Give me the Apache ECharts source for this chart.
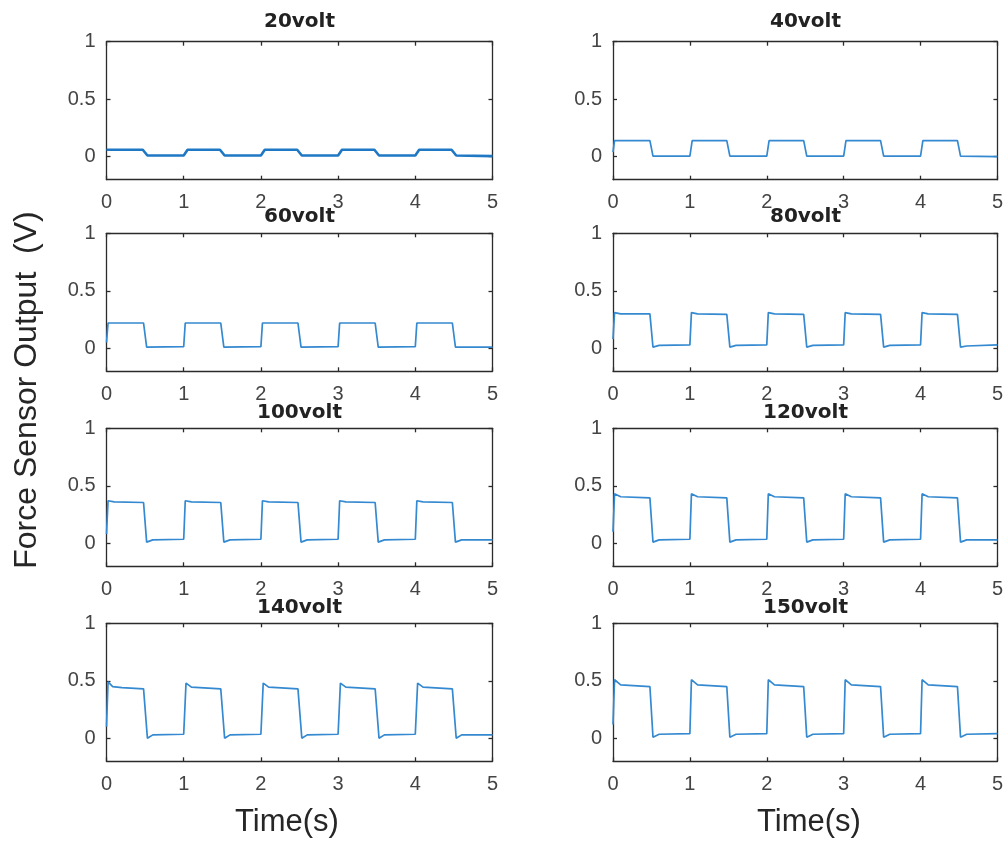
<!DOCTYPE html>
<html>
<head>
<meta charset="utf-8">
<script src="https://cdn.jsdelivr.net/npm/echarts@6/dist/echarts.min.js"></script>
<style>html,body{margin:0;padding:0;background:#fff}#c{width:1006px;height:842px}</style>
</head>
<body>
<div id="c"></div>
<script>
// ---- data ----
const titles = ['20volt','40volt','60volt','80volt','100volt','120volt','140volt','150volt'];
const timeTicks = [0,1,2,3,4,5];
const yTicks = [0,0.5,1];
const yLabel = 'Force Sensor Output  (V)';
const xLabel = 'Time(s)';

const v20 = [[0,0.06],[0.47,0.06],[0.53,0.01],[1.0,0.01],[1.05,0.06],[1.47,0.06],[1.53,0.01],[2.0,0.01],[2.05,0.06],[2.47,0.06],[2.53,0.01],[3.0,0.01],[3.05,0.06],[3.47,0.06],[3.53,0.01],[4.0,0.01],[4.05,0.06],[4.47,0.06],[4.53,0.01],[5.0,0.005]];
const v40 = [[0,0.04],[0.02,0.14],[0.48,0.14],[0.52,0.005],[1.0,0.005],[1.03,0.14],[1.48,0.14],[1.52,0.005],[2.0,0.005],[2.03,0.14],[2.48,0.14],[2.52,0.005],[3.0,0.005],[3.03,0.14],[3.48,0.14],[3.52,0.005],[4.0,0.005],[4.03,0.14],[4.48,0.14],[4.52,0.005],[5.0,0.0]];
const v60 = [[0,0.05],[0.02,0.22],[0.48,0.22],[0.52,0.01],[1.0,0.015],[1.02,0.22],[1.48,0.22],[1.52,0.01],[2.0,0.015],[2.02,0.22],[2.48,0.22],[2.52,0.01],[3.0,0.015],[3.02,0.22],[3.48,0.22],[3.52,0.01],[4.0,0.015],[4.02,0.22],[4.48,0.22],[4.52,0.01],[5.0,0.01]];
const v80 = [[0,0.08],[0.02,0.31],[0.1,0.30],[0.48,0.30],[0.52,0.01],[0.6,0.025],[1.0,0.03],[1.02,0.31],[1.1,0.30],[1.48,0.295],[1.52,0.01],[1.6,0.025],[2.0,0.03],[2.02,0.31],[2.1,0.30],[2.48,0.295],[2.52,0.01],[2.6,0.025],[3.0,0.03],[3.02,0.31],[3.1,0.30],[3.48,0.295],[3.52,0.01],[3.6,0.025],[4.0,0.03],[4.02,0.31],[4.1,0.30],[4.48,0.295],[4.52,0.01],[4.6,0.02],[5.0,0.03]];
const v100 = [[0,0.08],[0.02,0.37],[0.1,0.36],[0.48,0.355],[0.52,0.01],[0.6,0.03],[1.0,0.035],[1.02,0.37],[1.1,0.36],[1.48,0.355],[1.52,0.01],[1.6,0.03],[2.0,0.035],[2.02,0.37],[2.1,0.36],[2.48,0.355],[2.52,0.01],[2.6,0.03],[3.0,0.035],[3.02,0.37],[3.1,0.36],[3.48,0.355],[3.52,0.01],[3.6,0.03],[4.0,0.035],[4.02,0.37],[4.1,0.36],[4.48,0.355],[4.52,0.01],[4.6,0.03],[5.0,0.03]];
const v120 = [[0,0.1],[0.02,0.43],[0.1,0.405],[0.48,0.395],[0.52,0.01],[0.6,0.03],[1.0,0.035],[1.02,0.43],[1.1,0.405],[1.48,0.395],[1.52,0.01],[1.6,0.03],[2.0,0.035],[2.02,0.43],[2.1,0.405],[2.48,0.395],[2.52,0.01],[2.6,0.03],[3.0,0.035],[3.02,0.43],[3.1,0.405],[3.48,0.395],[3.52,0.01],[3.6,0.03],[4.0,0.035],[4.02,0.43],[4.1,0.405],[4.48,0.395],[4.52,0.01],[4.6,0.03],[5.0,0.03]];
const v140 = [[0,0.1],[0.02,0.49],[0.08,0.45],[0.2,0.44],[0.48,0.43],[0.53,0.0],[0.6,0.03],[1.0,0.035],[1.03,0.48],[1.1,0.445],[1.48,0.43],[1.53,0.0],[1.6,0.03],[2.0,0.035],[2.03,0.48],[2.1,0.445],[2.48,0.43],[2.53,0.0],[2.6,0.03],[3.0,0.035],[3.03,0.48],[3.1,0.445],[3.48,0.43],[3.53,0.0],[3.6,0.03],[4.0,0.035],[4.03,0.48],[4.1,0.445],[4.48,0.43],[4.53,0.0],[4.6,0.03],[5.0,0.03]];
const v150 = [[0,0.12],[0.02,0.51],[0.1,0.465],[0.48,0.45],[0.52,0.01],[0.6,0.035],[1.0,0.04],[1.02,0.51],[1.1,0.465],[1.48,0.45],[1.52,0.01],[1.6,0.035],[2.0,0.04],[2.02,0.51],[2.1,0.465],[2.48,0.45],[2.52,0.01],[2.6,0.035],[3.0,0.04],[3.02,0.51],[3.1,0.465],[3.48,0.45],[3.52,0.01],[3.6,0.035],[4.0,0.04],[4.02,0.51],[4.1,0.465],[4.48,0.45],[4.52,0.01],[4.6,0.035],[5.0,0.04]];
const seriesData = [v20, v40, v60, v80, v100, v120, v140, v150];

// ---- layout ----
const colLeft = [106.5, 613];
const colWidth = [386, 385];
const rowTop = [41.7, 233.3, 428.3, 623.3];
const rowTitleY = [21.5, 216.5, 412.5, 608];
const panelH = 138;
const FONT = '"Liberation Sans", Arial, sans-serif';
const axisColor = '#2b2b2b';

const grids = [], xAxes = [], yAxes = [], series = [], graphics = [];
for (let i = 0; i < 8; i++) {
  const col = i % 2, row = Math.floor(i / 2);
  grids.push({left: colLeft[col], top: rowTop[row], width: colWidth[col], height: panelH, containLabel: false});
  const xb = {
    type: 'value', gridIndex: i, min: 0, max: 5, interval: 1, position: 'bottom',
    axisLine: {show: true, onZero: false, lineStyle: {color: axisColor, width: 1.3}},
    axisTick: {show: true, inside: true, length: 4, lineStyle: {color: axisColor, width: 1.3}},
    axisLabel: {show: true, margin: 13, fontSize: 20, color: '#444', fontFamily: FONT},
    splitLine: {show: false}
  };
  const xt = JSON.parse(JSON.stringify(xb));
  xt.position = 'top'; xt.axisLabel = {show: false};
  xAxes.push(xb, xt);
  const yl = {
    type: 'value', gridIndex: i, min: -0.2, max: 1, position: 'left',
    axisLine: {show: true, onZero: false, lineStyle: {color: axisColor, width: 1.3}},
    axisTick: {show: true, inside: true, length: 4, customValues: yTicks, lineStyle: {color: axisColor, width: 1.3}},
    axisLabel: {show: true, margin: 11, fontSize: 20, color: '#444', fontFamily: FONT, customValues: yTicks},
    splitLine: {show: false}
  };
  const yr = JSON.parse(JSON.stringify(yl));
  yr.position = 'right'; yr.axisLabel = {show: false};
  yAxes.push(yl, yr);
  series.push({
    type: 'line', xAxisIndex: 2 * i, yAxisIndex: 2 * i, data: seriesData[i],
    showSymbol: false, symbol: 'none',
    lineStyle: {color: i === 0 ? '#1f78c4' : '#3489d0', width: i === 0 ? 2.6 : 1.7},
    z: 1
  });
  graphics.push({
    type: 'text', x: colLeft[col] + colWidth[col] / 2, y: rowTitleY[row],
    style: {text: titles[i], fontSize: 20, fontWeight: 'bold', fontFamily: '"DejaVu Sans", sans-serif',
      fill: '#222', align: 'center', verticalAlign: 'middle'}
  });
}
graphics.push({
  type: 'text', x: 287, y: 822,
  style: {text: xLabel, fontSize: 31, fontFamily: FONT, fill: '#262626', align: 'center', verticalAlign: 'middle'}
});
graphics.push({
  type: 'text', x: 809, y: 822,
  style: {text: xLabel, fontSize: 31, fontFamily: FONT, fill: '#262626', align: 'center', verticalAlign: 'middle'}
});
graphics.push({
  type: 'text', x: 27, y: 390, rotation: Math.PI / 2,
  style: {text: yLabel, fontSize: 32, fontFamily: FONT, fill: '#262626', align: 'center', verticalAlign: 'middle'}
});

const chart = echarts.init(document.getElementById('c'), null, {renderer: 'canvas'});
chart.setOption({
  animation: false,
  backgroundColor: '#fff',
  grid: grids, xAxis: xAxes, yAxis: yAxes, series: series, graphic: graphics
});
</script>
</body>
</html>
